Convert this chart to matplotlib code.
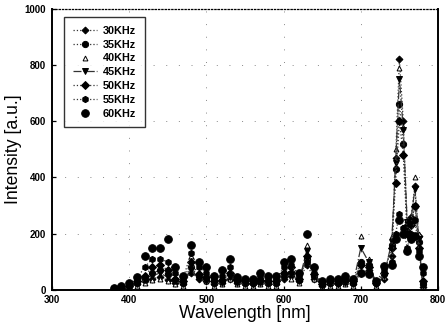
import numpy as np
import matplotlib
matplotlib.use('Agg')
import matplotlib.pyplot as plt

#=====================================================
# Data
#-----------------------------------------------------
wavelength = [380, 390, 400, 410, 420, 430, 440, 450, 460, 470, 480, 490, 500, 510, 520,
              530, 540, 550, 560, 570, 580, 590, 600, 610, 620, 630, 640, 650, 660, 670,
              680, 690, 700, 710, 720, 730, 740, 745, 750, 755, 760, 765, 770, 775, 780]

s30 = [3, 5, 10, 20, 30, 40, 45, 35, 25, 20, 60, 40, 30, 20, 25, 40, 25, 20, 20, 25, 20, 20,
       40, 50, 30, 90, 40, 15, 20, 20, 25, 20, 60, 70, 20, 40, 120, 470, 820, 600, 230, 260,
       370, 190, 10]
s35 = [4, 6, 12, 25, 40, 60, 70, 55, 35, 25, 80, 50, 40, 25, 30, 55, 30, 25, 25, 30, 25, 25,
       50, 60, 35, 110, 50, 20, 25, 25, 30, 25, 100, 90, 25, 55, 160, 430, 660, 520, 210, 240,
       300, 170, 20]
s40 = [2, 4, 8, 15, 25, 35, 40, 30, 20, 15, 120, 45, 30, 15, 20, 40, 20, 15, 15, 20, 15, 15,
       70, 40, 25, 160, 40, 10, 15, 15, 20, 15, 190, 110, 15, 45, 190, 500, 790, 580, 250, 260,
       400, 200, 10]
s45 = [3, 5, 10, 20, 35, 50, 60, 45, 30, 20, 70, 40, 30, 20, 25, 45, 25, 20, 20, 25, 20, 20,
       45, 55, 30, 140, 45, 15, 20, 20, 25, 20, 150, 100, 20, 50, 170, 450, 750, 570, 240, 250,
       360, 180, 15]
s50 = [4, 8, 15, 30, 50, 80, 90, 70, 40, 30, 100, 55, 45, 30, 35, 60, 35, 30, 25, 35, 30, 30,
       60, 80, 40, 120, 55, 20, 30, 25, 35, 30, 90, 80, 25, 60, 150, 380, 600, 480, 200, 230,
       300, 150, 30]
s55 = [5, 10, 20, 40, 80, 110, 110, 100, 60, 40, 130, 80, 60, 40, 50, 80, 40, 35, 30, 45, 35,
       35, 80, 90, 50, 100, 60, 25, 35, 30, 40, 35, 60, 60, 30, 70, 100, 200, 270, 220, 150, 200,
       250, 140, 60]
s60 = [8, 12, 25, 45, 120, 150, 150, 180, 80, 50, 160, 100, 80, 50, 70, 110, 45, 40, 40, 60, 50,
       50, 100, 110, 60, 200, 80, 30, 40, 40, 50, 40, 60, 55, 30, 85, 90, 180, 250, 200, 140, 180,
       190, 120, 80]

labels = ['30KHz', '35KHz', '40KHz', '45KHz', '50KHz', '55KHz', '60KHz']
series = [s30, s35, s40, s45, s50, s55, s60]

# marker, marker size, line style for each frequency
styles = [('D', 3.5, ':'), ('o', 4.5, ':'), ('^', 3.5, 'none'), ('v', 4.0, '-.'),
          ('D', 4.0, ':'), ('h', 4.5, ':'), ('o', 5.5, 'none')]

#=====================================================
# Plot
#-----------------------------------------------------
plt.rcParams['font.family'] = ['Liberation Sans', 'DejaVu Sans']

fig = plt.figure(figsize=(4.47, 3.29), dpi=100)
ax = fig.add_axes([0.116, 0.119, 0.864, 0.854])

for y, lab, (m, ms, ls) in zip(series, labels, styles):
    fc = 'white' if m == '^' else 'black'
    ax.plot(wavelength, y, linestyle=ls, color='#333333', lw=0.9,
            marker=m, ms=ms, mfc=fc, mec='black', mew=0.7, label=lab)

ax.set_xlim(300, 800)
ax.set_ylim(0, 1000)
ax.set_xticks([300, 400, 500, 600, 700, 800])
ax.set_yticks([0, 200, 400, 600, 800, 1000])
ax.tick_params(direction='in', length=3, width=0.9, labelsize=7, pad=4)
for t in ax.get_xticklabels() + ax.get_yticklabels():
    t.set_fontweight('bold')

ax.grid(True, color='#888888', linestyle=(0, (1, 12)), lw=0.7)

for side in ['left', 'bottom', 'right']:
    ax.spines[side].set_linewidth(1.4)
ax.spines['top'].set_linestyle(':')
ax.spines['top'].set_linewidth(0.9)

ax.set_xlabel('Wavelength [nm]', fontsize=12.7, labelpad=0)
ax.set_ylabel('Intensity [a.u.]', fontsize=12.7, labelpad=2)

leg = ax.legend(loc='upper left', bbox_to_anchor=(0.017, 0.99),
                prop={'weight': 'bold', 'size': 7.8}, frameon=True, fancybox=False,
                edgecolor='black', handlelength=2.3, labelspacing=0.35,
                borderpad=0.8, handletextpad=0.5)
leg.get_frame().set_linewidth(1.0)

fig.savefig('out.png', dpi=100)
